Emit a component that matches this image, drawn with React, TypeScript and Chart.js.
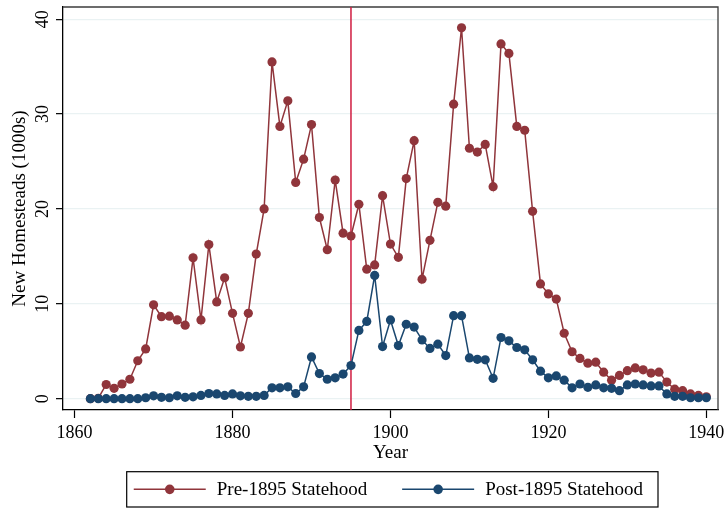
import { useEffect, useRef } from "react";
import { Chart, registerables } from "chart.js";

Chart.register(...registerables);

const years = [
  1862, 1863, 1864, 1865, 1866, 1867, 1868, 1869, 1870, 1871,
  1872, 1873, 1874, 1875, 1876, 1877, 1878, 1879, 1880, 1881,
  1882, 1883, 1884, 1885, 1886, 1887, 1888, 1889, 1890, 1891,
  1892, 1893, 1894, 1895, 1896, 1897, 1898, 1899, 1900, 1901,
  1902, 1903, 1904, 1905, 1906, 1907, 1908, 1909, 1910, 1911,
  1912, 1913, 1914, 1915, 1916, 1917, 1918, 1919, 1920, 1921,
  1922, 1923, 1924, 1925, 1926, 1927, 1928, 1929, 1930, 1931,
  1932, 1933, 1934, 1935, 1936, 1937, 1938, 1939, 1940,
];

const preStatehood = [
  0, 0.05, 1.5, 1.1, 1.55, 2.05, 4.0, 5.25, 9.9, 8.65,
  8.7, 8.3, 7.75, 14.85, 8.3, 16.25, 10.2, 12.75, 9.0, 5.45,
  9.0, 15.25, 20.0, 35.5, 28.7, 31.4, 22.8, 25.25, 28.9, 19.1,
  15.7, 23.05, 17.45, 17.15, 20.5, 13.65, 14.1, 21.4, 16.3, 14.9,
  23.2, 27.2, 12.6, 16.7, 20.7, 20.3, 31.05, 39.1, 26.4, 26.0,
  26.8, 22.35, 37.4, 36.4, 28.7, 28.3, 19.75, 12.1, 11.05, 10.5,
  6.9, 4.95, 4.25, 3.75, 3.85, 2.8, 1.95, 2.45, 2.95, 3.25,
  3.05, 2.7, 2.8, 1.75, 1.0, 0.85, 0.5, 0.35, 0.2,
];

const postStatehood = [
  0, 0, 0, 0, 0, 0, 0, 0.1, 0.3, 0.15,
  0.1, 0.3, 0.15, 0.2, 0.35, 0.55, 0.5, 0.35, 0.5, 0.3,
  0.25, 0.25, 0.35, 1.15, 1.15, 1.25, 0.55, 1.25, 4.4, 2.65,
  2.05, 2.2, 2.6, 3.5, 7.2, 8.15, 13.0, 5.5, 8.3, 5.6,
  7.85, 7.55, 6.2, 5.3, 5.75, 4.55, 8.75, 8.75, 4.3, 4.15,
  4.1, 2.15, 6.45, 6.1, 5.4, 5.15, 4.1, 2.9, 2.2, 2.4,
  1.95, 1.15, 1.55, 1.2, 1.45, 1.15, 1.1, 0.85, 1.45, 1.55,
  1.45, 1.35, 1.35, 0.5, 0.25, 0.25, 0.1, 0.1, 0.1,
];

const xTickValues = [1860, 1880, 1900, 1920, 1940];
const yTickValues = [0, 10, 20, 30, 40];
const statehoodYear = 1895;
const seriesLabels = ["Pre-1895 Statehood", "Post-1895 Statehood"];
const xTitle = "Year";
const yTitle = "New Homesteads (1000s)";

const SERIF = "'Liberation Serif', 'Times New Roman', serif";
const RED = "#90353b";
const BLUE = "#1a476f";
const VLINE = "#d01c40";

const decorPlugin = {
  id: "decor",
  beforeDatasetsDraw(chart: any) {
    const { ctx, chartArea: a, scales } = chart;
    ctx.save();
    ctx.strokeStyle = "#3c3c3c";
    ctx.lineWidth = 1.3;
    ctx.beginPath();
    ctx.moveTo(a.left, a.top);
    ctx.lineTo(a.right, a.top);
    ctx.lineTo(a.right, a.bottom);
    ctx.stroke();
    const px = scales.x.getPixelForValue(statehoodYear);
    ctx.strokeStyle = VLINE;
    ctx.lineWidth = 1.5;
    ctx.beginPath();
    ctx.moveTo(px, a.top);
    ctx.lineTo(px, a.bottom);
    ctx.stroke();
    ctx.restore();
  },
  afterDraw(chart: any) {
    const { ctx, scales } = chart;
    const y = scales.y;
    ctx.save();
    ctx.fillStyle = "#000";
    ctx.font = `18px ${SERIF}`;
    ctx.textAlign = "center";
    ctx.textBaseline = "middle";
    yTickValues.forEach((v) => {
      const py = y.getPixelForValue(v);
      ctx.save();
      ctx.translate(43, py);
      ctx.rotate(-Math.PI / 2);
      ctx.fillText(String(v), 0, 0);
      ctx.restore();
    });
    ctx.restore();

    // legend
    const boxL = 126.7, boxR = 658, boxT = 471.7, boxB = 507;
    const cy = (boxT + boxB) / 2;
    ctx.save();
    ctx.font = `19px ${SERIF}`;
    const lineLen = 72, gapText = 11, gapItem = 35;
    const items = [0, 1].map((i) => {
      const ds = chart.data.datasets.find((d: any) => d.label === seriesLabels[i]);
      return { label: seriesLabels[i], color: ds ? ds.borderColor : "#000", w: ctx.measureText(seriesLabels[i]).width };
    });
    const total = items.reduce((s, it) => s + lineLen + gapText + it.w, 0) + gapItem * (items.length - 1);
    let xPos = (boxL + boxR) / 2 - total / 2 - 4;
    ctx.strokeStyle = "#000";
    ctx.lineWidth = 1.2;
    ctx.strokeRect(boxL, boxT, boxR - boxL, boxB - boxT);
    items.forEach((it) => {
      ctx.strokeStyle = it.color;
      ctx.fillStyle = it.color;
      ctx.lineWidth = 1.5;
      ctx.beginPath();
      ctx.moveTo(xPos, cy);
      ctx.lineTo(xPos + lineLen, cy);
      ctx.stroke();
      ctx.beginPath();
      ctx.arc(xPos + lineLen / 2, cy, 4.8, 0, Math.PI * 2);
      ctx.fill();
      ctx.fillStyle = "#000";
      ctx.textAlign = "left";
      ctx.textBaseline = "middle";
      ctx.fillText(it.label, xPos + lineLen + gapText, cy + 1);
      xPos += lineLen + gapText + it.w + gapItem;
    });
    ctx.restore();
  },
};

export default function App() {
  const canvasRef = useRef<HTMLCanvasElement | null>(null);

  useEffect(() => {
    document.body.style.margin = "0";
    const canvas = canvasRef.current;
    if (!canvas) return;
    const chart = new Chart(canvas, {
      type: "line",
      data: {
        datasets: [
          {
            label: seriesLabels[0],
            data: years.map((yr, i) => ({ x: yr, y: preStatehood[i] })),
            borderColor: RED,
            backgroundColor: RED,
            pointBackgroundColor: RED,
            pointBorderColor: RED,
            pointRadius: 4.6,
            pointBorderWidth: 0,
            borderWidth: 1.5,
            tension: 0,
            order: 2,
          },
          {
            label: seriesLabels[1],
            data: years.map((yr, i) => ({ x: yr, y: postStatehood[i] })),
            borderColor: BLUE,
            backgroundColor: BLUE,
            pointBackgroundColor: BLUE,
            pointBorderColor: BLUE,
            pointRadius: 4.6,
            pointBorderWidth: 0,
            borderWidth: 1.5,
            tension: 0,
            order: 1,
          },
        ],
      },
      options: {
        animation: false,
        responsive: false,
        layout: { padding: { top: 7, right: 9, left: 0, bottom: 0 } },
        plugins: { legend: { display: false }, tooltip: { enabled: false } },
        scales: {
          x: {
            type: "linear",
            min: 1858.53,
            max: 1941.48,
            afterBuildTicks: (s: any) => {
              s.ticks = xTickValues.map((v) => ({ value: v }));
            },
            afterFit: (s: any) => {
              s.height = 98;
              s.paddingLeft = 0;
              s.paddingRight = 0;
            },
            grid: { drawOnChartArea: false, drawTicks: true, tickLength: 8, tickColor: "#000", tickWidth: 1.2 },
            border: { color: "#000", width: 1.3 },
            ticks: {
              font: { family: SERIF, size: 18 },
              color: "#000",
              padding: 4,
              maxRotation: 0,
              autoSkip: false,
              callback: (v: any) => String(v),
            },
            title: { display: true, text: xTitle, font: { family: SERIF, size: 19 }, color: "#000", padding: { top: 0, bottom: 44 } },
          },
          y: {
            type: "linear",
            min: -1.19,
            max: 41.29,
            afterBuildTicks: (s: any) => {
              s.ticks = yTickValues.map((v) => ({ value: v }));
            },
            afterFit: (s: any) => {
              s.width = 63;
              s.paddingTop = 0;
              s.paddingBottom = 0;
            },
            grid: { color: "#eaf2f3", lineWidth: 1.3, drawTicks: true, tickLength: 7, tickColor: "#000", tickWidth: 1.2 },
            border: { color: "#000", width: 1.3 },
            ticks: { font: { family: SERIF, size: 18 }, color: "rgba(0,0,0,0)" },
            title: { display: true, text: yTitle, font: { family: SERIF, size: 19 }, color: "#000", padding: { top: 9, bottom: 0 } },
          },
        },
      },
      plugins: [decorPlugin],
    } as any);
    return () => chart.destroy();
  }, []);

  return <canvas ref={canvasRef} width={727} height={508} style={{ display: "block" }} />;
}
